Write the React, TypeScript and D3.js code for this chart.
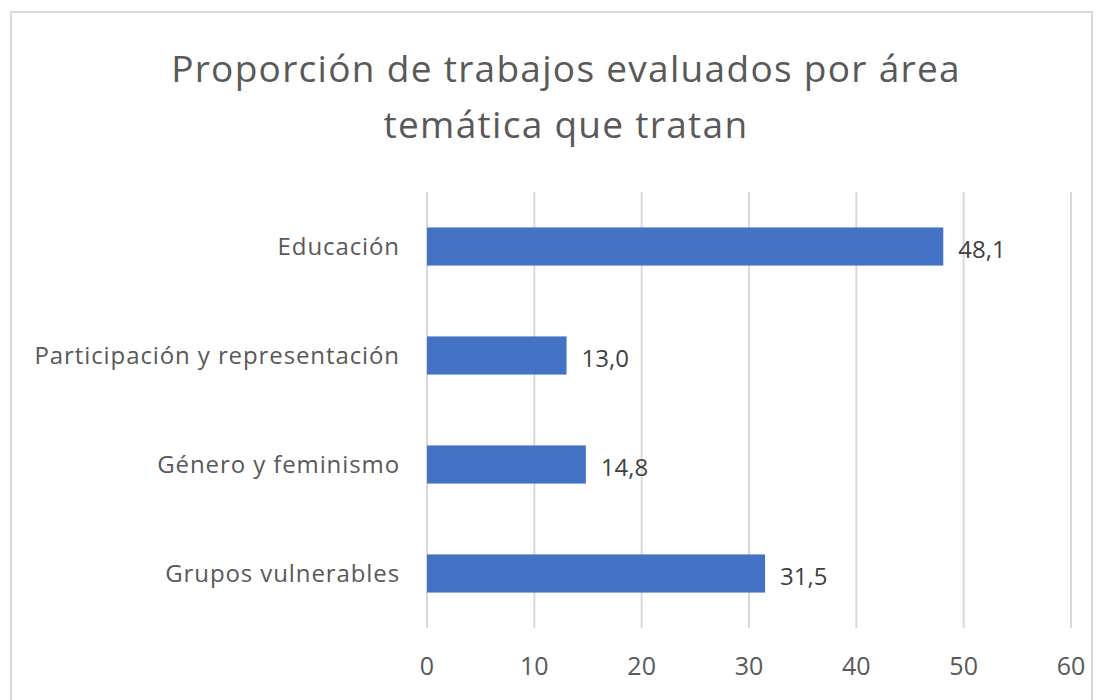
import React, { useEffect, useRef } from 'react';
import * as d3 from 'd3';

const categories = ['Educación', 'Participación y representación', 'Género y feminismo', 'Grupos vulnerables'];
const values = [48.1, 13.0, 14.8, 31.5];
const ticks = [0, 10, 20, 30, 40, 50, 60];
const titleLines = ['Proporción de trabajos evaluados por área', 'temática que tratan'];

const W = 1106;
const H = 700;
const FONT = "'Open Sans', 'Noto Sans', sans-serif";
const TEXT = '#595959';

export default function App() {
    const ref = useRef<SVGSVGElement>(null);

    useEffect(() => {
        const svg = d3.select(ref.current);
        svg.selectAll('*').remove();

        const x = d3.scaleLinear().domain([0, 60]).range([427, 1071]);
        const y = d3.scaleBand<string>()
            .domain(categories)
            .range([192, 628])
            .paddingInner(0.65)
            .paddingOuter(0.325);
        const fmt = d3.formatLocale({ decimal: ',', thousands: '.', grouping: [3], currency: ['', '€'] }).format('.1f');

        // chart border
        svg.append('rect')
            .attr('x', 11).attr('y', 12)
            .attr('width', 1081).attr('height', 720)
            .attr('fill', 'white')
            .attr('stroke', '#d9d9d9')
            .attr('stroke-width', 2);

        // title
        svg.append('g').selectAll('text').data(titleLines).enter().append('text')
            .attr('x', 566)
            .attr('y', (d, i) => 82 + i * 56)
            .attr('text-anchor', 'middle')
            .style('font-family', FONT)
            .style('font-size', '37px')
            .style('letter-spacing', '1.3px')
            .style('fill', TEXT)
            .text(d => d);

        // gridlines
        svg.append('g').selectAll('line').data(ticks).enter().append('line')
            .attr('x1', d => x(d)).attr('x2', d => x(d))
            .attr('y1', 192).attr('y2', 628)
            .attr('stroke', '#d9d9d9')
            .attr('stroke-width', 2);

        // tick labels
        svg.append('g').selectAll('text').data(ticks).enter().append('text')
            .attr('x', d => x(d))
            .attr('y', 675)
            .attr('text-anchor', 'middle')
            .style('font-family', FONT)
            .style('font-size', '25px')
            .style('fill', TEXT)
            .text(d => d);

        // bars
        svg.append('g').selectAll('rect').data(values).enter().append('rect')
            .attr('x', x(0))
            .attr('y', (d, i) => y(categories[i]) as number)
            .attr('width', d => x(d) - x(0))
            .attr('height', y.bandwidth())
            .attr('fill', '#4472c4');

        // value labels
        svg.append('g').selectAll('text').data(values).enter().append('text')
            .attr('x', d => x(d) + 15)
            .attr('y', (d, i) => (y(categories[i]) as number) + y.bandwidth() / 2)
            .attr('dy', '0.48em')
            .style('font-family', FONT)
            .style('font-size', '24px')
            .style('fill', '#404040')
            .text(d => fmt(d));

        // category labels
        svg.append('g').selectAll('text').data(categories).enter().append('text')
            .attr('x', 400)
            .attr('y', d => (y(d) as number) + y.bandwidth() / 2)
            .attr('dy', '0.37em')
            .attr('text-anchor', 'end')
            .style('font-family', FONT)
            .style('font-size', '24px')
            .style('letter-spacing', '0.9px')
            .style('fill', TEXT)
            .text(d => d);
    }, []);

    return <svg ref={ref} width={W} height={H} style={{ position: 'absolute', left: 0, top: 0 }} />;
}
